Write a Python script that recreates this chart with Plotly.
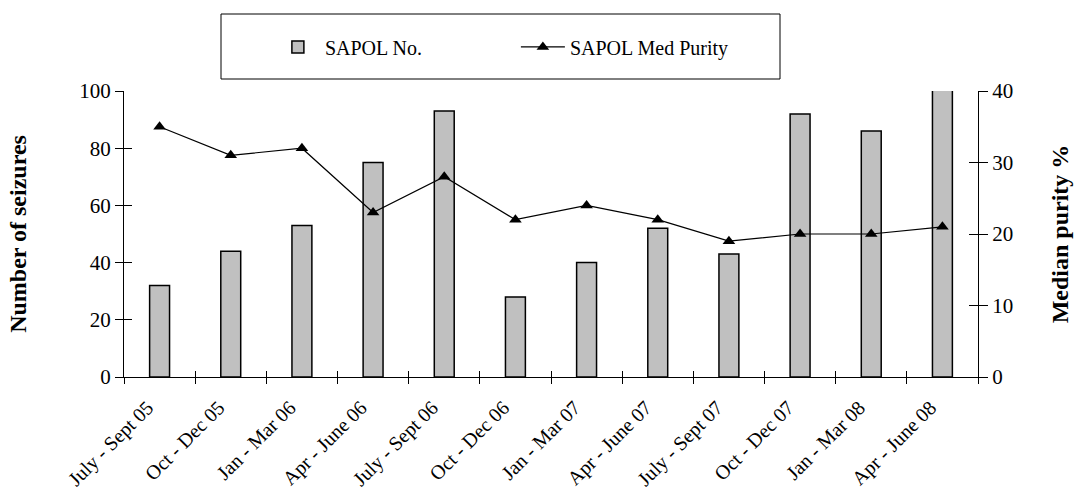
import plotly.graph_objects as go

categories = ["July - Sept 05", "Oct - Dec 05", "Jan - Mar 06", "Apr - June 06",
              "July - Sept 06", "Oct - Dec 06", "Jan - Mar 07", "Apr - June 07",
              "July - Sept 07", "Oct - Dec 07", "Jan - Mar 08", "Apr - June 08"]
seizures = [32, 44, 53, 75, 93, 28, 40, 52, 43, 92, 86, 110]
purity = [35, 31, 32, 23, 28, 22, 24, 22, 19, 20, 20, 21]
left_ticks = [0, 20, 40, 60, 80, 100]
right_ticks = [0, 10, 20, 30, 40]

FONT = "Liberation Serif"
n = len(categories)
boundaries = [i - 0.5 for i in range(n + 1)]

fig = go.Figure()
fig.add_trace(go.Bar(
    x=categories, y=seizures, name="SAPOL No.",
    marker=dict(color="#C0C0C0", line=dict(color="black", width=1.5)),
    width=0.28, xaxis="x", yaxis="y"))
fig.add_trace(go.Scatter(
    x=categories, y=purity, name="SAPOL Med Purity", mode="lines+markers",
    line=dict(color="black", width=1.2),
    marker=dict(symbol="triangle-up", size=11, color="black"),
    xaxis="x", yaxis="y2"))
# invisible helper traces so the inner tick halves are drawn
fig.add_trace(go.Scatter(x=[0], y=[0], mode="markers", marker=dict(opacity=0),
                         xaxis="x3", yaxis="y3", showlegend=False, hoverinfo="skip"))
fig.add_trace(go.Scatter(x=[0], y=[0], mode="markers", marker=dict(opacity=0),
                         xaxis="x3", yaxis="y4", showlegend=False, hoverinfo="skip"))

fig.update_layout(
    width=1075, height=496,
    margin=dict(l=124, r=97, t=91, b=119, autoexpand=False),
    paper_bgcolor="white", plot_bgcolor="white",
    font=dict(family=FONT, color="black"),
    showlegend=True,
    legend=dict(orientation="h", x=0.172, y=1.154, xanchor="left", yanchor="middle",
                xref="paper", yref="paper",
                font=dict(family=FONT, size=20, color="black"),
                bgcolor="rgba(0,0,0,0)", itemwidth=44,
                entrywidth=186, entrywidthmode="pixels"),
    bargap=0.72,
    xaxis=dict(type="category", categoryorder="array", categoryarray=categories,
               range=[-0.5, n - 0.5], tickson="boundaries", ticks="outside",
               ticklen=6, tickcolor="black", tickwidth=1, automargin=False,
               showline=True, linecolor="black", linewidth=1, showgrid=False,
               tickangle=-45, ticklabelstandoff=10, ticklabelshift=-12,
               tickfont=dict(family=FONT, size=20, color="black")),
    yaxis=dict(range=[0, 100], tickvals=left_ticks, ticks="outside", ticklen=8,
               tickcolor="black", showline=True, linecolor="black", linewidth=1,
               showgrid=False, zeroline=False, automargin=False,
               tickfont=dict(family=FONT, size=21, color="black"),
               title=dict(text="<b>Number of seizures</b>", standoff=45,
                          font=dict(family=FONT, size=24, color="black"))),
    yaxis2=dict(range=[0, 40], tickvals=right_ticks, overlaying="y", side="right",
                ticks="outside", ticklen=9, tickcolor="black", showline=True,
                linecolor="black", linewidth=1, showgrid=False, zeroline=False,
                automargin=False,
                tickfont=dict(family=FONT, size=21, color="black"),
                title=dict(text="<b>Median purity %</b>", standoff=38,
                           font=dict(family=FONT, size=24, color="black"))),
    xaxis3=dict(overlaying="x", range=[-0.5, n - 0.5], tickvals=boundaries,
                ticks="inside", ticklen=6, tickcolor="black", showticklabels=False,
                showline=False, showgrid=False, zeroline=False, anchor="y3",
                automargin=False),
    yaxis3=dict(overlaying="y", range=[0, 100], tickvals=left_ticks, ticks="inside",
                ticklen=8, tickcolor="black", showticklabels=False, showline=False,
                showgrid=False, zeroline=False, anchor="x3", side="left",
                automargin=False),
    yaxis4=dict(overlaying="y", range=[0, 40], tickvals=right_ticks, ticks="inside",
                ticklen=9, tickcolor="black", showticklabels=False, showline=False,
                showgrid=False, zeroline=False, anchor="x3", side="right",
                automargin=False),
    shapes=[dict(type="rect", xref="paper", yref="paper",
                 x0=(221 - 124) / 854, x1=(780 - 124) / 854,
                 y0=(377 - 79) / 286, y1=(377 - 14) / 286,
                 line=dict(color="black", width=1), fillcolor="rgba(0,0,0,0)",
                 layer="above")],
)

fig.write_html("out.html")
